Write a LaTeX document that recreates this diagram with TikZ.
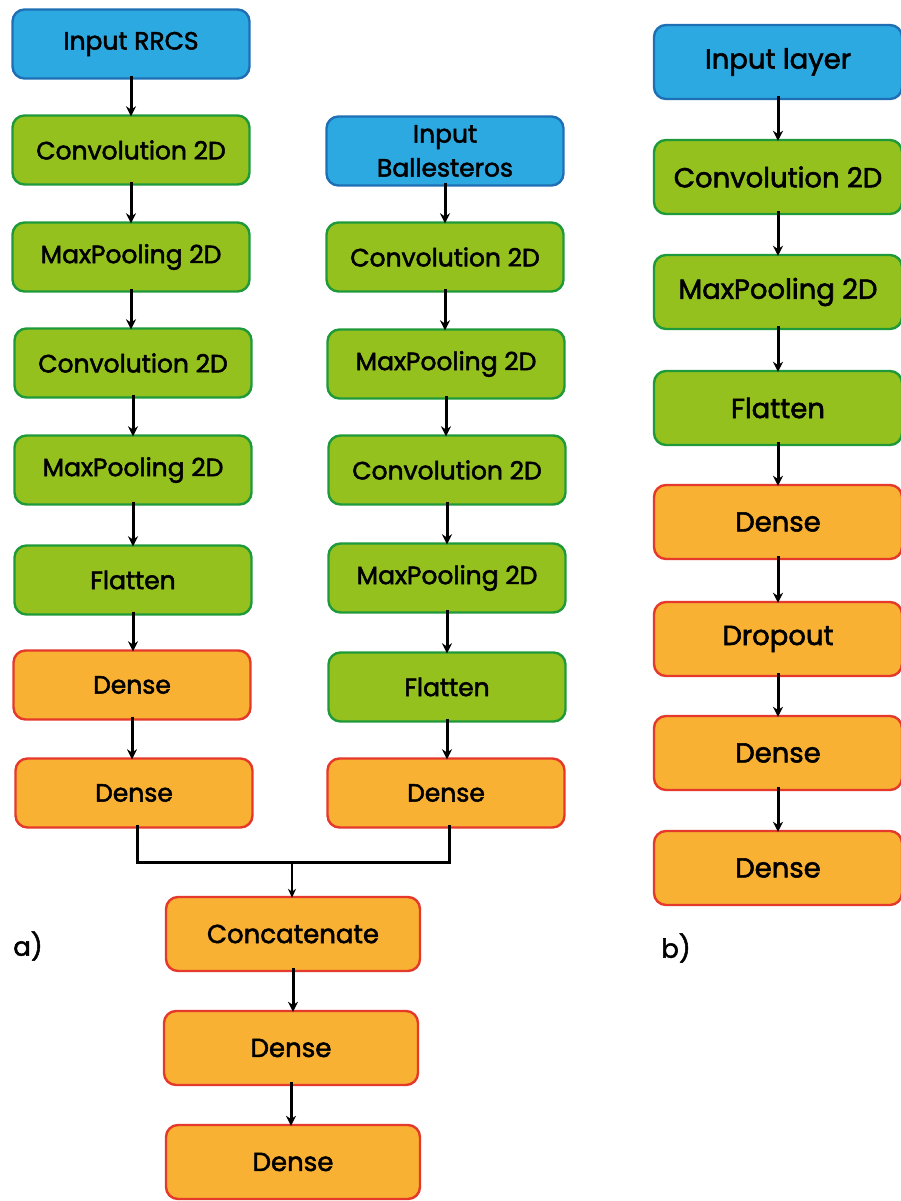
\documentclass[tikz,border=0pt]{standalone}
\usepackage{fontspec}
\setmainfont{Poppins}[RawFeature={embolden=2.0}]
\usetikzlibrary{arrows.meta}
\definecolor{inblue}{HTML}{2DA9E1}
\definecolor{inblueB}{HTML}{1F6FB5}
\definecolor{lgreen}{HTML}{95C11F}
\definecolor{lgreenB}{HTML}{1E9A3A}
\definecolor{lorange}{HTML}{F8B133}
\definecolor{lorangeB}{HTML}{E5392B}
\tikzset{
  box/.style={rounded corners=12pt, line width=2.4pt, minimum height=69pt, align=center, inner sep=0pt, font=\fontsize{25}{34}\selectfont},
  inbox/.style={box, fill=inblue, draw=inblueB},
  grbox/.style={box, fill=lgreen, draw=lgreenB},
  orbox/.style={box, fill=lorange, draw=lorangeB},
  wa/.style={minimum width=237pt},
  wb/.style={minimum width=254pt, minimum height=74pt, font=\fontsize{26}{30}\selectfont},
  wc/.style={minimum width=248pt, minimum height=74pt, font=\fontsize{27.5}{30}\selectfont},
  arr/.style={line width=3pt, -{Stealth[length=10pt,width=10pt]}},
  conn/.style={line width=3pt},
  lab/.style={font=\fontsize{26}{30}\selectfont}
}
\begin{document}
\begin{tikzpicture}[x=1pt,y=-1pt]
\useasboundingbox (0,0) rectangle (901,1201);
% column a left
\node[inbox,wa] (a1) at (131,44) {Input RRCS};
\node[grbox,wa] (a2) at (131,150) {Convolution 2D};
\node[grbox,wa] (a3) at (131,257) {MaxPooling 2D};
\node[grbox,wa] (a4) at (133,363) {Convolution 2D};
\node[grbox,wa] (a5) at (133,470) {MaxPooling 2D};
\node[grbox,wa] (a6) at (133,580) {Flatten};
\node[orbox,wa] (a7) at (132,685) {Dense};
\node[orbox,wa] (a8) at (134,793) {Dense};
% column a middle
\node[inbox,wa] (b1) at (445,151) {Input\\Ballesteros};
\node[grbox,wa] (b2) at (445,257) {Convolution 2D};
\node[grbox,wa] (b3) at (446,364) {MaxPooling 2D};
\node[grbox,wa] (b4) at (447,470) {Convolution 2D};
\node[grbox,wa] (b5) at (447,578) {MaxPooling 2D};
\node[grbox,wa] (b6) at (447,687) {Flatten};
\node[orbox,wa] (b7) at (446,793) {Dense};
% merge
\node[orbox,wb] (c1) at (293,934) {Concatenate};
\node[orbox,wb] (c2) at (291,1048) {Dense};
\node[orbox,wb] (c3) at (293,1162) {Dense};
\coordinate (m) at (292,862);
% column b
\node[inbox,wc] (r1) at (778,62) {Input layer};
\node[grbox,wc] (r2) at (778,177) {Convolution 2D};
\node[grbox,wc] (r3) at (778,292) {MaxPooling 2D};
\node[grbox,wc] (r4) at (778,408) {Flatten};
\node[orbox,wc] (r5) at (778,522) {Dense};
\node[orbox,wc] (r6) at (778,639) {Dropout};
\node[orbox,wc] (r7) at (778,753) {Dense};
\node[orbox,wc] (r8) at (778,868) {Dense};
% labels
\node[lab] (la) at (28,946) {a)};
\node[lab] (lb) at (676,948) {b)};
% arrows
\foreach \u/\v in {a1/a2,a2/a3,a3/a4,a4/a5,a5/a6,a6/a7,a7/a8,
                   b1/b2,b2/b3,b3/b4,b4/b5,b5/b6,b6/b7,
                   c1/c2,c2/c3,
                   r1/r2,r2/r3,r3/r4,r4/r5,r5/r6,r6/r7,r7/r8}
  \draw[arr] ([yshift=4pt]\u.south) -- ([yshift=-2pt]\u.south |- \v.north);
\draw[conn] ([yshift=4pt]a8.south -| 137,0) -- (137,862) -- (449,862) -- ([yshift=4pt]b7.south -| 449,0);
\draw[line width=1.8pt, -{Stealth[length=9pt,width=8pt]}] (m) -- ([yshift=-2pt]c1.north -| m);
\end{tikzpicture}
\end{document}
